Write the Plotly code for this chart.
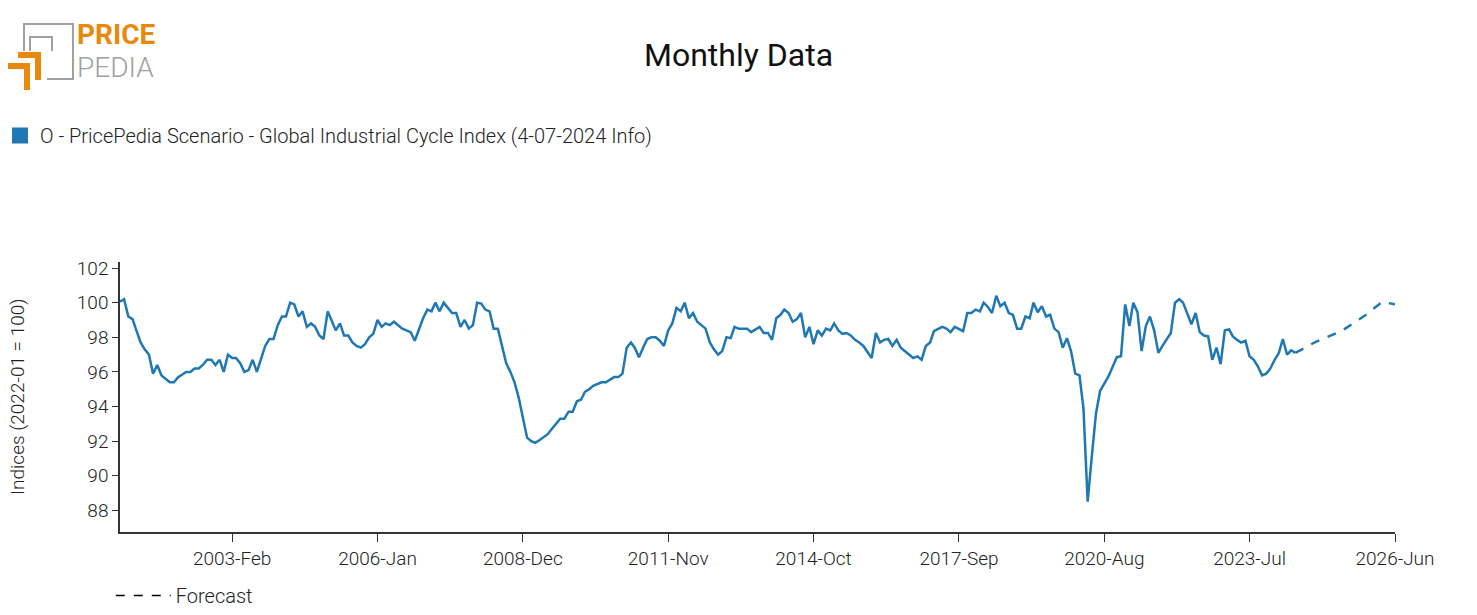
import pandas as pd
import plotly.graph_objects as go

# monthly index values, Nov 2000 onwards
actual = [
    100.05, 100.2, 99.2, 99.05, 98.4, 97.7, 97.3, 97.0, 95.9, 96.4,
    95.8, 95.6, 95.4, 95.4, 95.7, 95.85, 96.0, 96.0, 96.2, 96.2,
    96.4, 96.7, 96.7, 96.4, 96.7, 96.0, 97.0, 96.8, 96.8, 96.5,
    96.0, 96.1, 96.7, 96.0, 96.8, 97.5, 97.9, 97.9, 98.7, 99.2,
    99.2, 100.0, 99.9, 99.2, 99.5, 98.6, 98.8, 98.6, 98.1, 97.9,
    99.5, 98.9, 98.4, 98.8, 98.1, 98.1, 97.7, 97.5, 97.4, 97.6,
    98.0, 98.2, 99.0, 98.6, 98.8, 98.7, 98.9, 98.7, 98.5, 98.4,
    98.3, 97.8, 98.5, 99.1, 99.6, 99.5, 100.0, 99.5, 100.0, 99.7,
    99.4, 99.4, 98.6, 99.0, 98.5, 98.7, 100.0, 99.95, 99.6, 99.5,
    98.5, 98.5, 97.5, 96.5, 96.0, 95.4, 94.5, 93.4, 92.2, 92.0,
    91.9, 92.05, 92.2, 92.4, 92.7, 93.0, 93.3, 93.3, 93.7, 93.7,
    94.3, 94.4, 94.85, 95.0, 95.2, 95.3, 95.4, 95.4, 95.55, 95.7,
    95.7, 95.9, 97.4, 97.7, 97.4, 96.85, 97.4, 97.9, 98.0, 98.0,
    97.8, 97.5, 98.4, 98.8, 99.7, 99.5, 100.0, 99.1, 99.4, 98.9,
    98.7, 98.5, 97.7, 97.3, 97.0, 97.2, 98.0, 97.95, 98.6, 98.5,
    98.5, 98.5, 98.3, 98.45, 98.6, 98.25, 98.25, 97.85, 99.1, 99.3,
    99.6, 99.4, 98.9, 99.05, 99.4, 98.0, 98.6, 97.6, 98.4, 98.1,
    98.5, 98.4, 98.8, 98.4, 98.2, 98.25, 98.1, 97.85, 97.7, 97.5,
    97.15, 96.8, 98.25, 97.7, 97.85, 97.9, 97.5, 97.85, 97.4, 97.2,
    97.0, 96.8, 96.9, 96.7, 97.5, 97.7, 98.35, 98.5, 98.6, 98.5,
    98.3, 98.6, 98.45, 98.35, 99.4, 99.4, 99.6, 99.5, 100.0, 99.75,
    99.4, 100.4, 99.8, 100.0, 99.4, 99.3, 98.5, 98.5, 99.2, 99.1,
    100.0, 99.45, 99.8, 99.2, 99.3, 98.5, 98.3, 97.4, 97.95, 97.2,
    95.9, 95.8, 93.9, 88.5, 91.1, 93.6, 94.9, 95.3, 95.75, 96.3,
    96.85, 96.9, 99.9, 98.65, 100.0, 99.45, 97.2, 98.65, 99.2, 98.4,
    97.1, 97.5, 97.85, 98.25, 100.0, 100.2, 100.0, 99.4, 98.75, 99.4,
    98.3, 98.1, 98.05, 96.7, 97.4, 96.45, 98.4, 98.45, 98.05, 97.85,
    97.7, 97.8, 96.9, 96.7, 96.3, 95.8, 95.9, 96.2, 96.7, 97.1,
    97.9, 97.0, 97.25, 97.1,
]
forecast = [
    97.1, 97.2, 97.35, 97.5, 97.6, 97.75, 97.85, 97.95, 98.05, 98.15,
    98.25, 98.35, 98.5, 98.65, 98.8, 98.95, 99.1, 99.3, 99.5, 99.7,
    99.9, 100.05, 100.0, 99.95, 99.9,
]
tick_dates = ["2003-02-01", "2006-01-01", "2008-12-01", "2011-11-01", "2014-10-01",
              "2017-09-01", "2020-08-01", "2023-07-01", "2026-06-01"]

act_dates = pd.date_range("2000-11-01", periods=len(actual), freq="MS")
fc_dates = pd.date_range(act_dates[-1], periods=len(forecast), freq="MS")

blue = "#1f77b4"
font = "Roboto"
W, H = 1477, 615
L, R, T, B = 120, 82, 262, 83

fig = go.Figure()
fig.add_trace(go.Scatter(x=act_dates, y=actual, mode="lines",
                         line=dict(color=blue, width=2.5), showlegend=False))
fig.add_trace(go.Scatter(x=fc_dates, y=forecast, mode="lines",
                         line=dict(color=blue, width=2.5, dash="dash"), showlegend=False))
fig.add_trace(go.Scatter(x=[None], y=[None], mode="markers",
                         marker=dict(symbol="square", size=24, color=blue),
                         name="O - PricePedia Scenario - Global Industrial Cycle Index (4-07-2024 Info)"))
fig.add_trace(go.Scatter(x=[None], y=[None], mode="lines",
                         line=dict(color="black", width=1.5, dash="dash"),
                         name="Forecast", legend="legend2"))

fig.update_layout(
    width=W, height=H,
    margin=dict(l=L, r=R, t=T, b=B, autoexpand=False),
    plot_bgcolor="white", paper_bgcolor="white",
    font=dict(family=font, size=19, color="#222", weight=300),
    title=dict(text="Monthly Data", x=0.5, xanchor="center", y=1 - 55 / H, yanchor="middle",
               font=dict(size=32, color="#111", family=font, weight=400)),
    legend=dict(x=0.0, xref="container", y=1 - 116 / H, yref="container", yanchor="top",
                orientation="h", font=dict(size=20, family=font, weight=300),
                itemwidth=30, itemsizing="trace", tracegroupgap=0),
    legend2=dict(x=0.075, xref="container", y=0.0, yref="container", yanchor="bottom",
                 orientation="h", font=dict(size=20, family=font, weight=300), itemwidth=55),
    xaxis=dict(range=[act_dates[0], fc_dates[-1]], tickvals=tick_dates, tickformat="%Y-%b",
               showgrid=False, showline=True, linecolor="#333", linewidth=1.5, automargin=False,
               ticks="outside", ticklen=8, tickcolor="#333", zeroline=False),
    yaxis=dict(range=[86.75, 102.35], dtick=2, tick0=88, showgrid=False, showline=True,
               linecolor="#333", linewidth=1.5, ticks="outside", ticklen=6, tickcolor="#333",
               zeroline=False, automargin=False),
)


def px(x, y):
    # pixel position -> paper coordinates of the plot area
    return f"{(x - L) / (W - L - R)} {(H - B - y) / (H - T - B)}"


def pxy(x, y):
    return (x - L) / (W - L - R), (H - B - y) / (H - T - B)


# y axis title, placed at the left edge
ax, ay = pxy(17, 397)
fig.add_annotation(text="Indices (2022-01 = 100)", x=ax, y=ay, xref="paper", yref="paper",
                   textangle=-90, showarrow=False, xanchor="center", yanchor="middle",
                   font=dict(size=19, color="#222", family=font, weight=300))

# logo
gray, orange = "#a0a0a0", "#e8890c"
fig.add_shape(type="path", path=f"M {px(24, 51)} L {px(24, 24)} L {px(73, 24)} L {px(73, 79)} L {px(47, 79)}",
              line=dict(color=gray, width=2), xref="paper", yref="paper")
fig.add_shape(type="path", path=f"M {px(30, 51)} L {px(30, 37)} L {px(52, 37)} L {px(52, 51)}",
              line=dict(color=gray, width=2), xref="paper", yref="paper")
fig.add_shape(type="path",
              path=f"M {px(8, 63)} L {px(30, 63)} L {px(30, 90)} L {px(24, 90)} L {px(24, 69)} L {px(8, 69)} Z",
              fillcolor=orange, line=dict(width=0), xref="paper", yref="paper")
fig.add_shape(type="path",
              path=f"M {px(18, 52)} L {px(41, 52)} L {px(41, 80)} L {px(35, 80)} L {px(35, 58)} L {px(18, 58)} Z",
              fillcolor=orange, line=dict(width=0), xref="paper", yref="paper")
ax, ay = pxy(76, 52)
fig.add_annotation(text="<b>PRICE</b>", x=ax, y=ay, xref="paper", yref="paper",
                   xanchor="left", yanchor="bottom", showarrow=False, borderpad=0,
                   font=dict(size=28, color=orange, family=font, weight=700))
ax, ay = pxy(76, 50)
fig.add_annotation(text="PEDIA", x=ax, y=ay, xref="paper", yref="paper",
                   xanchor="left", yanchor="top", showarrow=False, borderpad=0,
                   font=dict(size=28, color=gray, family=font, weight=300))

fig.write_html("out.html", config={"displayModeBar": False},
               post_script="document.body.style.margin='0';")
